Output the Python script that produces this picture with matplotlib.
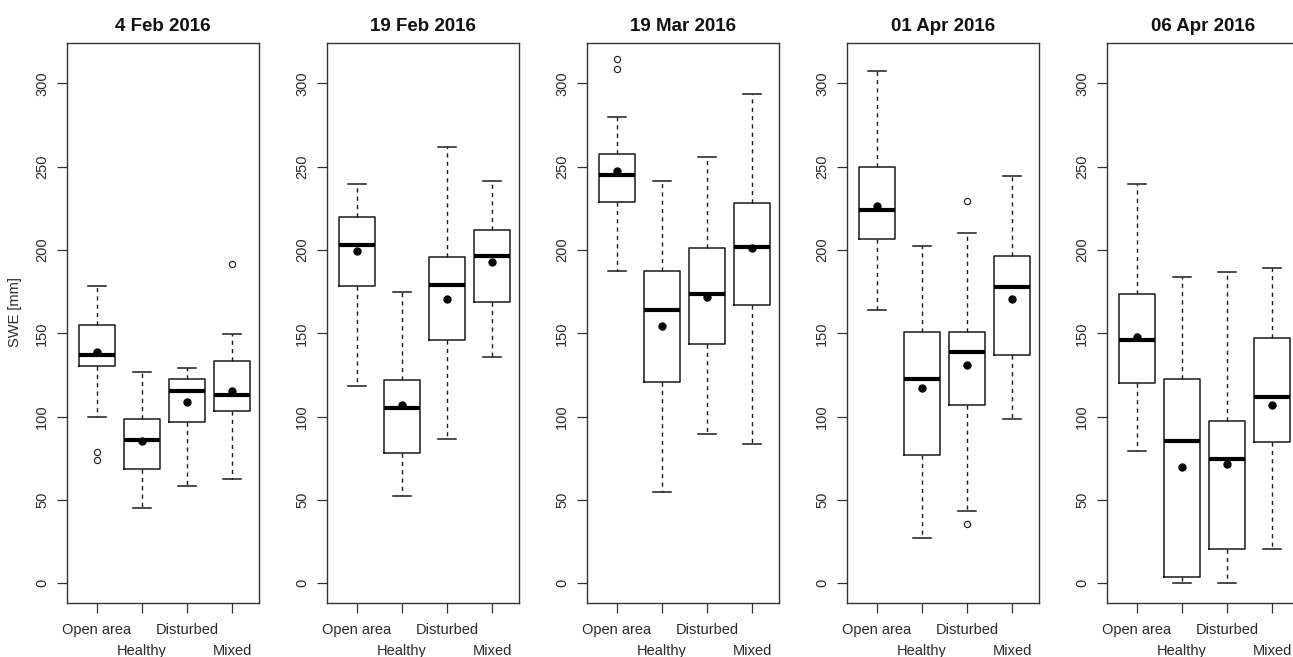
import matplotlib
matplotlib.use("Agg")
import matplotlib.pyplot as plt

dates = ["4 Feb 2016", "19 Feb 2016", "19 Mar 2016", "01 Apr 2016", "06 Apr 2016"]
groups = ["Open area", "Healthy", "Disturbed", "Mixed"]

whisker_low = [[99.7, 45.3, 58.5, 62.8],
               [118.7, 52.6, 86.4, 135.8],
               [187.6, 54.7, 89.5, 83.4],
               [164.0, 27.5, 43.7, 98.7],
               [79.6, 0.0, 0.0, 20.8]]
q1 = [[130.4, 68.6, 96.6, 103.7],
      [178.7, 78.0, 146.2, 168.6],
      [228.8, 120.8, 143.7, 167.3],
      [206.7, 76.8, 107.3, 137.3],
      [120.0, 3.8, 20.8, 84.7]]
median = [[136.8, 85.9, 115.7, 113.1],
          [202.9, 105.5, 179.3, 196.3],
          [244.9, 164.0, 173.7, 202.1],
          [224.3, 122.6, 138.6, 178.0],
          [146.2, 85.7, 74.5, 111.9]]
q3 = [[155.1, 98.4, 122.6, 133.2],
      [219.9, 122.0, 195.8, 212.3],
      [257.6, 187.4, 201.4, 228.3],
      [249.7, 150.8, 150.8, 196.5],
      [173.7, 122.6, 97.4, 147.5]]
whisker_high = [[178.5, 126.6, 129.2, 149.8],
                [239.8, 174.9, 261.9, 241.5],
                [279.7, 241.5, 256.0, 293.7],
                [307.7, 202.6, 210.5, 244.6],
                [239.8, 183.6, 186.9, 189.4]]
means = [[138.6, 85.2, 108.6, 115.2],
         [199.6, 106.8, 170.9, 192.7],
         [247.4, 154.6, 171.6, 201.4],
         [226.3, 117.0, 130.9, 170.4],
         [148.0, 69.9, 71.7, 107.3]]
outliers = [[[79.0, 74.0], [], [], [191.5]],
            [[], [], [], []],
            [[314.8, 308.9], [], [], []],
            [[], [], [229.6, 35.6], []],
            [[], [], [], []]]

yticks = [0, 50, 100, 150, 200, 250, 300]

plt.rcParams['font.family'] = ['Liberation Sans', 'DejaVu Sans']

W, H = 1293, 657
fig = plt.figure(figsize=(W / 100, H / 100), dpi=100)

line_col = "#1a1a1a"
text_col = "#2a2a2a"
left0, step, axw = 66.7, 260.0, 192.5
top_px, bot_px = 43.3, 602.7

for i, date in enumerate(dates):
    ax = fig.add_axes([(left0 + step * i) / W, (H - bot_px) / H,
                       axw / W, (bot_px - top_px) / H])
    stats = []
    for j in range(len(groups)):
        stats.append(dict(med=median[i][j], q1=q1[i][j], q3=q3[i][j],
                          whislo=whisker_low[i][j], whishi=whisker_high[i][j],
                          mean=means[i][j], fliers=outliers[i][j]))
    ax.bxp(stats, positions=[1, 2, 3, 4], widths=0.8, capwidths=0.4,
           showmeans=True,
           boxprops=dict(color=line_col, linewidth=1.1),
           whiskerprops=dict(color=line_col, linewidth=1.0, linestyle=(0, (3, 3))),
           capprops=dict(color=line_col, linewidth=1.1),
           medianprops=dict(color="black", linewidth=3.0, solid_capstyle="butt"),
           meanprops=dict(marker="o", markerfacecolor="black", markeredgecolor="black",
                          markersize=5.0),
           flierprops=dict(marker="o", markerfacecolor="none", markeredgecolor=line_col,
                           markersize=4.5, markeredgewidth=0.8))
    ax.set_xlim(0.335, 4.6)
    ax.set_ylim(-11.6, 324.1)
    ax.set_yticks(yticks)
    ax.set_yticklabels([str(v) for v in yticks], rotation=90, va="center",
                       fontsize=10.5, color=text_col)
    ax.set_xticks([1, 3])
    ax.set_xticklabels([groups[0], groups[2]], fontsize=10.5, color=text_col)
    ax.set_xticks([2, 4], minor=True)
    ax.set_xticklabels([groups[1], groups[3]], minor=True, fontsize=10.5, color=text_col)
    ax.tick_params(axis="both", which="both", length=7.5, width=0.9, color="#333333",
                   direction="out")
    ax.tick_params(axis="x", which="major", pad=7)
    ax.tick_params(axis="x", which="minor", pad=22)
    ax.tick_params(axis="y", pad=5)
    for sp in ax.spines.values():
        sp.set_color("#333333")
        sp.set_linewidth(1.0)
    ax.set_title(date, fontsize=13.5, fontweight="bold", color="#111111", pad=9)
    if i == 0:
        ax.set_ylabel("SWE [mm]", fontsize=10.5, color=text_col)
        ax.yaxis.set_label_coords((22 - left0) / axw, 0.52)

fig.savefig("out.png", dpi=100)
